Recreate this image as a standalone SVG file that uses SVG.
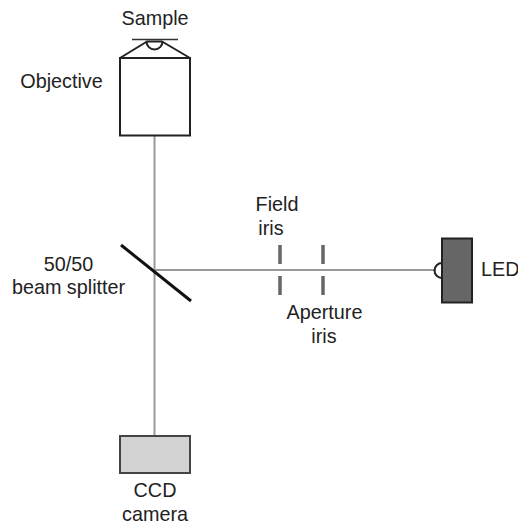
<svg xmlns="http://www.w3.org/2000/svg" width="518" height="525" viewBox="0 0 518 525">
<style>
.t{font-family:"Liberation Sans",Arial,sans-serif;font-size:19.800px;fill:#222}
.m{text-anchor:middle}
.b{stroke:#222;stroke-width:2;fill:none}
.beam{stroke:#999;stroke-width:2;fill:none}
.iris{stroke:#666;stroke-width:3.5;fill:none}
</style>
<rect width="518" height="525" fill="#fff"/>
<g id="connectors">
<line class="beam" x1="154.500" y1="136" x2="154.500" y2="436"/>
<line class="beam" x1="154.500" y1="270" x2="436" y2="270"/>
</g>
<g id="sample"><text class="t m" x="155" y="25">Sample</text><line x1="132" y1="39.500" x2="178" y2="39.500" stroke="#333" stroke-width="1.500"/></g>
<g id="objective">
<text class="t m" x="61.500" y="88">Objective</text>
<rect class="b" x="120" y="58" width="70" height="77.500" fill="#fff"/>
<path class="b" d="M120 58L147 41.500M190 58L162 41.500"/>
<path class="b" d="M146.500 41.500A8 8 0 0 0 162.500 41.500M146.500 41.500H162.500"/>
</g>
<g id="beam-splitter">
<text class="t m" x="68.500" y="271">50/50</text>
<text class="t m" x="68.500" y="294">beam splitter</text>
<line x1="121" y1="245" x2="191" y2="301" stroke="#111" stroke-width="3"/>
</g>
<g id="field-iris">
<text class="t m" x="277" y="211">Field</text>
<text class="t m" x="271" y="235">iris</text>
<line class="iris" x1="280" y1="245" x2="280" y2="264"/>
<line class="iris" x1="280" y1="276" x2="280" y2="295"/>
</g>
<g id="aperture-iris">
<text class="t m" x="324.500" y="319">Aperture</text>
<text class="t m" x="324" y="343">iris</text>
<line class="iris" x1="323" y1="245" x2="323" y2="264"/>
<line class="iris" x1="323" y1="276" x2="323" y2="295"/>
</g>
<g id="led">
<path class="b" d="M442 263A7.500 7.500 0 0 0 442 278"/>
<rect x="442" y="238.500" width="30" height="64" fill="#666" stroke="#222" stroke-width="2"/>
<text class="t" x="481" y="276">LED</text>
</g>
<g id="ccd-camera">
<rect x="120" y="436" width="70" height="37" fill="#d2d2d2" stroke="#444" stroke-width="2"/>
<text class="t m" x="155" y="497">CCD</text>
<text class="t m" x="155" y="521">camera</text>
</g>
</svg>
